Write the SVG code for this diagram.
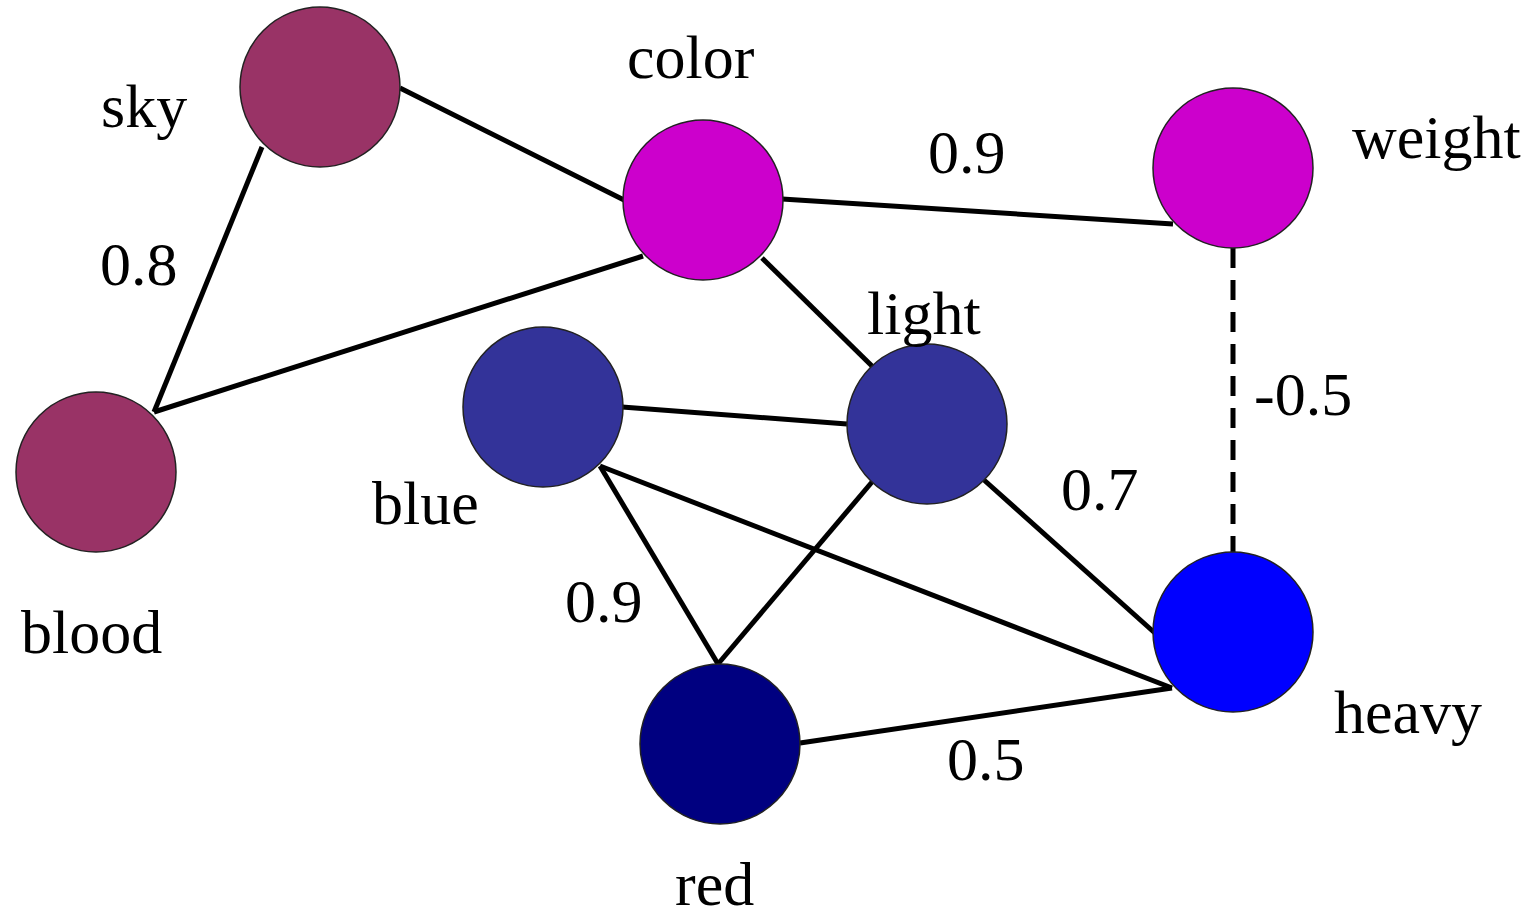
<svg xmlns="http://www.w3.org/2000/svg" width="1532" height="917" viewBox="0 0 1532 917">
  <style>
    .edge { stroke: #000; stroke-width: 5; fill: none; }
    .dashed { stroke-dasharray: 20 12; }
    .node { stroke: #222; stroke-width: 1.5; }
    .lbl { font-family: "Liberation Serif", "Times New Roman", serif; font-size: 62px; fill: #000; }
  </style>
  <rect width="1532" height="917" fill="#fff"/>

  <!-- connectors -->
  <g id="edges">
    <line class="edge" x1="400" y1="88" x2="624" y2="200"/>
    <line class="edge" x1="262" y1="147" x2="154" y2="412"/>
    <line class="edge" x1="154" y1="412" x2="643" y2="256"/>
    <line class="edge" x1="782" y1="199" x2="1173" y2="224"/>
    <line class="edge" x1="762" y1="258" x2="874" y2="368"/>
    <line class="edge" x1="622" y1="407" x2="847" y2="424"/>
    <line class="edge" x1="600" y1="466" x2="718" y2="664"/>
    <line class="edge" x1="600" y1="466" x2="1172" y2="688"/>
    <line class="edge" x1="872" y1="482" x2="718" y2="664"/>
    <line class="edge" x1="984" y1="480" x2="1156" y2="634"/>
    <line class="edge" x1="800" y1="743" x2="1172" y2="688"/>
    <line class="edge dashed" x1="1233" y1="248" x2="1233" y2="552"/>
  </g>

  <!-- edge weights -->
  <g id="weights">
    <text class="lbl" x="100" y="285">0.8</text>
    <text class="lbl" x="928" y="173">0.9</text>
    <text class="lbl" x="565" y="622">0.9</text>
    <text class="lbl" x="1061" y="510">0.7</text>
    <text class="lbl" x="1254" y="415">-0.5</text>
    <text class="lbl" x="947" y="780">0.5</text>
  </g>

  <g id="sky">
    <circle class="node" cx="320" cy="87" r="80" fill="#993366"/>
    <text class="lbl" x="101" y="127">sky</text>
  </g>
  <g id="blood">
    <circle class="node" cx="96" cy="472" r="80" fill="#993366"/>
    <text class="lbl" x="21" y="653">blood</text>
  </g>
  <g id="color">
    <circle class="node" cx="703" cy="200" r="80" fill="#CC00CC"/>
    <text class="lbl" x="627" y="78">color</text>
  </g>
  <g id="weight">
    <circle class="node" cx="1233" cy="168" r="80" fill="#CC00CC"/>
    <text class="lbl" x="1352" y="158">weight</text>
  </g>
  <g id="blue">
    <circle class="node" cx="543" cy="407" r="80" fill="#333399"/>
    <text class="lbl" x="372" y="524">blue</text>
  </g>
  <g id="light">
    <circle class="node" cx="927" cy="424" r="80" fill="#333399"/>
    <text class="lbl" x="867" y="334">light</text>
  </g>
  <g id="heavy">
    <circle class="node" cx="1233" cy="632" r="80" fill="#0000FF"/>
    <text class="lbl" x="1334" y="733">heavy</text>
  </g>
  <g id="red">
    <circle class="node" cx="720" cy="744" r="80" fill="#000080"/>
    <text class="lbl" x="675" y="905">red</text>
  </g>
</svg>
